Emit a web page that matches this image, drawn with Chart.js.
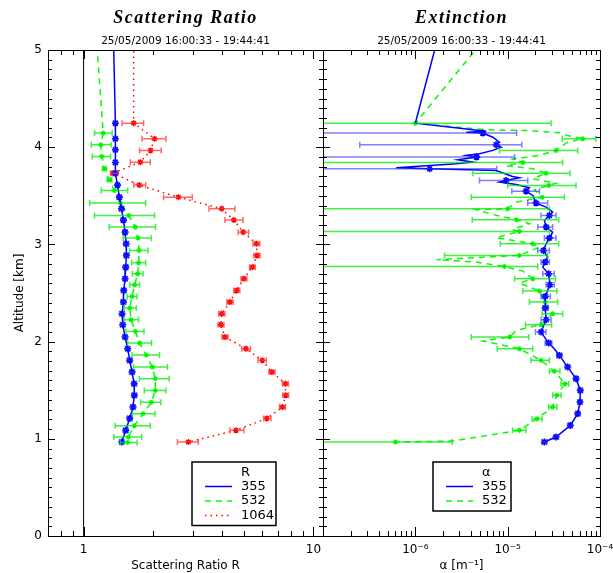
<!DOCTYPE html>
<html><head><meta charset="utf-8">
<script src="https://cdn.jsdelivr.net/npm/chart.js@4.4.1/dist/chart.umd.min.js"></script>
<style>
html,body{margin:0;padding:0;background:#fff;}
#wrap{position:relative;width:613px;height:573px;overflow:hidden;background:#fff;}
canvas{position:absolute;top:0;}
</style></head><body>
<div id="wrap">
<canvas id="c1" width="340" height="573" style="left:0"></canvas>
<canvas id="c2" width="340" height="573" style="left:290px"></canvas>
</div>
<script>
// ---------- text ----------
const TITLE_L = 'Scattering Ratio';
const TITLE_R = 'Extinction';
const SUBTITLE = '25/05/2009 16:00:33 - 19:44:41';
const X_TITLE_L = 'Scattering Ratio R';
const X_TITLE_R = 'α [m⁻¹]';
const Y_TITLE = 'Altitude [km]';
const LEG_TITLE_L = 'R';
const LEG_TITLE_R = 'α';
const WAVES = ['355', '532', '1064'];

// ---------- tick labels ----------
const srTickVals = [1, 10];
const srTickText = ['1', '10'];
const srMajor = [1, 10];
const srMinor = [0.8, 0.9, 2, 3, 4, 5, 6, 7, 8, 9];
const exTickVals = [1e-6, 1e-5, 1e-4];
const exTickText = ['10⁻⁶', '10⁻⁵', '10⁻⁴'];
const exMajor = [1e-7, 1e-6, 1e-5, 1e-4];
const exMinor = [2e-7,3e-7,4e-7,5e-7,6e-7,7e-7,8e-7,9e-7,2e-6,3e-6,4e-6,5e-6,6e-6,7e-6,8e-6,9e-6,2e-5,3e-5,4e-5,5e-5,6e-5,7e-5,8e-5,9e-5];
const refLineX = [1, 1];
const refLineY = [0, 5];

// ---------- Scattering ratio ----------
const topAlt = [5.5];
const sr355Top = [1.337];
const sr532Top = [1.107];
const sr1064Top = [1.651];

const srAlt355 = [4.247,4.087,3.973,3.843,3.733,3.61,3.486,3.367,3.25,3.126,3.007,2.887,2.766,2.647,2.527,2.407,2.287,2.174,2.047,1.927,1.807,1.687,1.567,1.447,1.327,1.21,1.087,0.967];
const sr355 = [1.375,1.375,1.375,1.375,1.375,1.404,1.431,1.461,1.49,1.515,1.531,1.535,1.525,1.515,1.495,1.49,1.47,1.48,1.515,1.555,1.587,1.625,1.658,1.662,1.64,1.587,1.525,1.465];
const sr355Lo = [1.35,1.35,1.35,1.35,1.35,1.38,1.40,1.43,1.455,1.48,1.495,1.50,1.49,1.48,1.46,1.455,1.435,1.445,1.48,1.52,1.55,1.585,1.62,1.625,1.60,1.55,1.49,1.435];
const sr355Hi = [1.40,1.40,1.40,1.40,1.40,1.43,1.46,1.495,1.525,1.55,1.57,1.57,1.56,1.55,1.53,1.525,1.505,1.515,1.55,1.59,1.625,1.665,1.70,1.70,1.68,1.625,1.56,1.495];

const srAlt532 = [4.145,4.025,3.905,3.778,3.665,3.555,3.425,3.298,3.178,3.065,2.938,2.812,2.698,2.585,2.465,2.345,2.225,2.105,1.985,1.861,1.738,1.619,1.498,1.375,1.259,1.135,1.018,0.963];
const sr532 = [1.217,1.188,1.200,1.233,1.296,1.362,1.446,1.571,1.679,1.725,1.743,1.735,1.718,1.668,1.625,1.587,1.609,1.679,1.753,1.874,1.990,2.050,2.050,1.971,1.813,1.662,1.566,1.555];
const sr532Lo = [1.116,1.080,1.090,1.208,1.266,1.193,1.062,1.116,1.292,1.486,1.586,1.619,1.630,1.586,1.546,1.504,1.504,1.530,1.555,1.625,1.651,1.747,1.837,1.770,1.630,1.372,1.353,1.446];
const sr532Hi = [1.331,1.318,1.309,1.258,1.326,1.555,1.861,2.036,2.056,1.970,1.906,1.861,1.813,1.752,1.708,1.696,1.735,1.831,1.975,2.139,2.317,2.357,2.280,2.169,2.044,1.950,1.788,1.708];

const srAlt1064 = [4.247,4.087,3.967,3.846,3.733,3.61,3.486,3.367,3.25,3.126,3.007,2.887,2.766,2.647,2.527,2.407,2.287,2.174,2.047,1.927,1.807,1.687,1.567,1.447,1.327,1.21,1.087,0.967];
const sr1064 = [1.651,2.036,1.955,1.765,1.344,1.747,2.585,3.986,4.506,4.946,5.648,5.68,5.42,4.98,4.63,4.33,3.986,3.958,4.12,5.08,5.99,6.59,7.55,7.57,7.33,6.27,4.60,2.857];
const sr1064Lo = [1.470,1.795,1.752,1.597,1.309,1.651,2.228,3.51,4.12,4.70,5.46,5.50,5.27,4.84,4.50,4.20,3.87,3.84,4.00,4.87,5.74,6.40,7.33,7.35,7.12,6.07,4.33,2.559];
const sr1064Hi = [1.824,2.280,2.176,1.950,1.408,1.861,2.972,4.55,4.94,5.23,5.84,5.85,5.58,5.13,4.78,4.47,4.12,4.08,4.25,5.32,6.24,6.80,7.78,7.80,7.55,6.54,4.98,3.157];

// ---------- Extinction ----------
const ex355LineAlt = [5.5,4.247,4.179,4.165,4.155,4.145,4.103,4.052,4.025,4.0,3.967,3.932,3.915,3.898,3.871,3.846,3.830,3.789,3.778,3.761,3.699,3.686,3.658,3.641,3.617,3.583,3.548,3.504,3.425,3.384,3.332,3.298,3.247,3.178,3.126,3.065,3.007,2.938,2.870,2.818,2.766,2.698,2.585,2.527,2.465,2.345,2.225,2.098,1.985,1.927,1.858,1.738,1.619,1.498,1.378,1.259,1.138,1.018,0.967];
const ex355Line = [2.23e-6,1.0e-6,4.2e-6,5.86e-6,3.56e-6,5.38e-6,6.9e-6,8.15e-6,7.5e-6,8.5e-6,6.9e-6,4.95e-6,3.56e-6,4.6e-6,2.89e-6,4.2e-6,2.78e-6,6.2e-7,1.43e-6,7.5e-6,1.13e-5,1.34e-5,9.6e-6,8.15e-6,1.24e-5,1.72e-5,1.58e-5,1.87e-5,2.03e-5,2.61e-5,3.07e-5,2.83e-5,2.5e-5,2.61e-5,3.07e-5,2.83e-5,2.61e-5,2.44e-5,2.71e-5,2.55e-5,2.4e-5,2.78e-5,2.87e-5,2.71e-5,2.55e-5,2.55e-5,2.61e-5,2.3e-5,2.78e-5,3.2e-5,3.63e-5,4.47e-5,5.5e-5,6.12e-5,6.07e-5,5.73e-5,4.77e-5,3.34e-5,2.5e-5];
const ex355Alt = [4.145,4.025,3.898,3.778,3.658,3.548,3.425,3.298,3.178,3.065,2.938,2.818,2.698,2.585,2.465,2.345,2.225,2.098,1.985,1.858,1.738,1.619,1.498,1.378,1.259,1.138,1.018,0.967];
const ex355 = [5.38e-6,7.5e-6,4.6e-6,1.43e-6,9.6e-6,1.58e-5,2.03e-5,2.83e-5,2.61e-5,2.83e-5,2.44e-5,2.55e-5,2.78e-5,2.87e-5,2.55e-5,2.55e-5,2.61e-5,2.3e-5,2.78e-5,3.63e-5,4.47e-5,5.5e-5,6.12e-5,6.07e-5,5.73e-5,4.77e-5,3.34e-5,2.5e-5];
const ex355Lo = [1e-8,2.5e-7,1e-8,1e-8,4.95e-6,1.11e-5,1.65e-5,2.3e-5,2.12e-5,2.5e-5,2.12e-5,2.3e-5,2.4e-5,2.61e-5,2.3e-5,2.4e-5,2.3e-5,2.0e-5,2.55e-5,3.4e-5,4.2e-5,5.2e-5,5.8e-5,5.75e-5,5.45e-5,4.5e-5,3.15e-5,2.35e-5];
const ex355Hi = [1.25e-5,1.42e-5,1.19e-5,7.6e-6,1.65e-5,2.21e-5,2.71e-5,3.34e-5,3.07e-5,3.34e-5,2.83e-5,2.83e-5,3.2e-5,3.2e-5,2.9e-5,2.75e-5,2.95e-5,2.6e-5,3.0e-5,3.85e-5,4.7e-5,5.8e-5,6.45e-5,6.4e-5,6.05e-5,5.0e-5,3.55e-5,2.65e-5];

const ex532LineAlt = [5.5,4.247,4.179,4.172,4.148,4.121,4.087,4.052,3.967,3.915,3.877,3.843,3.809,3.778,3.733,3.675,3.630,3.607,3.562,3.486,3.435,3.367,3.357,3.308,3.254,3.213,3.151,3.133,3.069,3.007,2.972,2.887,2.843,2.818,2.773,2.725,2.647,2.602,2.520,2.407,2.287,2.174,2.115,2.047,2.006,1.927,1.807,1.694,1.567,1.447,1.327,1.207,1.087,0.977,0.967];
const ex532Line = [1.21e-5,1.0e-6,5.86e-6,1.58e-5,3.63e-5,4.47e-5,6.48e-5,4.47e-5,3.34e-5,2.21e-5,1.13e-5,1.46e-5,9.6e-6,1.87e-5,2.61e-5,1.87e-5,3.34e-5,2.78e-5,1.95e-5,2.36e-5,1.24e-5,1.0e-5,4.56e-6,6.9e-6,1.24e-5,1.72e-5,1.13e-5,1.34e-5,7.5e-6,1.87e-5,2.21e-5,1.34e-5,1.69e-6,4.56e-6,9.2e-6,1.46e-5,1.87e-5,1.34e-5,2.21e-5,2.55e-5,3.07e-5,2.3e-5,1.24e-5,1.05e-5,5.38e-6,1.34e-5,2.3e-5,3.2e-5,4.18e-5,3.41e-5,3.07e-5,2.08e-5,1.34e-5,2.55e-6,6.1e-7];
const ex532Alt = [4.247,4.087,3.967,3.843,3.733,3.607,3.486,3.367,3.254,3.133,3.007,2.887,2.773,2.647,2.520,2.407,2.287,2.174,2.047,1.927,1.807,1.694,1.567,1.447,1.327,1.207,1.087,0.967];
const ex532 = [1.0e-6,6.48e-5,3.34e-5,1.46e-5,2.61e-5,2.78e-5,2.36e-5,1.0e-5,1.24e-5,1.34e-5,1.87e-5,1.34e-5,9.2e-6,1.87e-5,2.21e-5,2.55e-5,3.07e-5,2.3e-5,1.05e-5,1.34e-5,2.3e-5,3.2e-5,4.18e-5,3.41e-5,3.07e-5,2.08e-5,1.34e-5,6.1e-7];
const ex532Lo = [1e-8,3.9e-5,8.15e-6,1e-8,4.2e-6,1.0e-5,4.03e-6,1e-8,4.13e-6,1e-8,8.3e-6,2.07e-6,1e-8,1.19e-5,1.46e-5,1.72e-5,2.36e-5,1.56e-5,4.03e-6,7.7e-6,1.79e-5,2.83e-5,3.78e-5,3.07e-5,2.78e-5,1.84e-5,1.13e-5,1e-8];
const ex532Hi = [2.95e-5,9.0e-5,5.73e-5,3.94e-5,4.74e-5,5.5e-5,4.11e-5,2.83e-5,3.57e-5,2.83e-5,3.57e-5,2.71e-5,2.12e-5,3.3e-5,3.41e-5,3.48e-5,3.94e-5,2.99e-5,1.69e-5,1.87e-5,2.83e-5,3.68e-5,4.58e-5,3.78e-5,3.41e-5,2.36e-5,1.58e-5,2.51e-6];

// ---------- helpers ----------
const pts = (xs, ys) => xs.map((v, i) => ({x: v, y: ys[i]}));
const BLUE = '#0000ff', GREEN = '#00ff00', RED = '#ff0000';
const FONT = '"DejaVu Sans", "Liberation Sans", sans-serif';
Chart.defaults.font.family = FONT;
Chart.defaults.font.size = 12;
Chart.defaults.color = '#000';

const px = v => Math.round(v) + 0.5;

const framePlugin = {
  id: 'frameTicks',
  afterDraw(chart, args, o) {
    const {ctx, chartArea: a} = chart;
    const xs = chart.scales.x, ys = chart.scales.y;
    ctx.save();
    ctx.strokeStyle = '#000'; ctx.lineWidth = 1;
    ctx.beginPath();
    ctx.rect(px(a.left), px(a.top), Math.round(a.right) - Math.round(a.left), Math.round(a.bottom) - Math.round(a.top));
    ctx.stroke();
    ctx.beginPath();
    for (let k = 0; k <= 50; k++) {
      const yy = px(ys.getPixelForValue(k / 10));
      const L = k % 10 === 0 ? 7 : 4;
      ctx.moveTo(a.left, yy); ctx.lineTo(a.left + L, yy);
      ctx.moveTo(a.right, yy); ctx.lineTo(a.right - L, yy);
    }
    const xt = (list, L) => list.forEach(v => {
      const xx = px(xs.getPixelForValue(v));
      if (xx < a.left - 1 || xx > a.right + 1) return;
      ctx.moveTo(xx, a.bottom); ctx.lineTo(xx, a.bottom - L);
      ctx.moveTo(xx, a.top); ctx.lineTo(xx, a.top + L);
    });
    xt(o.major, 9); xt(o.minor, 5);
    ctx.stroke();
    // titles
    const cx = (a.left + a.right) / 2;
    ctx.fillStyle = '#000'; ctx.textAlign = 'center'; ctx.textBaseline = 'middle';
    ctx.font = 'italic bold 18px "Liberation Serif", serif';
    try { ctx.letterSpacing = '1.5px'; } catch (e) {}
    ctx.fillText(o.title, cx, 18);
    try { ctx.letterSpacing = '0px'; } catch (e) {}
    ctx.font = '10.5px ' + FONT;
    ctx.fillText(o.subtitle, cx, 41);
    ctx.restore();
  }
};

const errPlugin = {
  id: 'errBars',
  afterDatasetsDraw(chart) {
    const {ctx, chartArea: a} = chart;
    const xs = chart.scales.x, ys = chart.scales.y;
    ctx.save();
    ctx.beginPath(); ctx.rect(a.left, a.top, a.right - a.left, a.bottom - a.top); ctx.clip();
    chart.data.datasets.forEach(ds => {
      if (!ds.errLo) return;
      ctx.strokeStyle = ds.errColor; ctx.lineWidth = 1.5;
      ctx.beginPath();
      ds.data.forEach((p, i) => {
        const y = ys.getPixelForValue(p.y);
        const x1 = xs.getPixelForValue(ds.errLo[i]);
        const x2 = xs.getPixelForValue(ds.errHi[i]);
        ctx.moveTo(x1, y); ctx.lineTo(x2, y);
        ctx.moveTo(x1, y - 3); ctx.lineTo(x1, y + 3);
        ctx.moveTo(x2, y - 3); ctx.lineTo(x2, y + 3);
      });
      ctx.stroke();
    });
    ctx.restore();
  }
};

const legendPlugin = {
  id: 'boxLegend',
  afterDraw(chart, args, o) {
    const ctx = chart.ctx;
    const h = 20 + 14.5 * o.items.length;
    ctx.save();
    ctx.fillStyle = '#fff'; ctx.fillRect(o.x, o.y, o.w, h);
    ctx.strokeStyle = '#000'; ctx.lineWidth = 1.5; ctx.strokeRect(o.x, o.y, o.w, h);
    ctx.font = '13px ' + FONT; ctx.fillStyle = '#000'; ctx.textBaseline = 'middle'; ctx.textAlign = 'left';
    ctx.fillText(o.title, o.x + 49, o.y + 10.5);
    o.items.forEach((idx, k) => {
      const ds = chart.data.datasets[idx];
      const yy = o.y + 24.5 + 14.5 * k;
      ctx.strokeStyle = ds.borderColor; ctx.lineWidth = ds.borderWidth;
      ctx.setLineDash(ds.borderDash || []);
      ctx.beginPath(); ctx.moveTo(o.x + 13, yy); ctx.lineTo(o.x + 40, yy); ctx.stroke();
      ctx.setLineDash([]);
      ctx.fillText(ds.label, o.x + 49, yy);
    });
    ctx.restore();
  }
};

function lineDs(label, data, color, dash) {
  return {label, data, showLine: true, borderColor: color, backgroundColor: color, borderWidth: 1.5,
          borderDash: dash, pointRadius: 0, pointHoverRadius: 0, fill: false, tension: 0};
}
function markDs(label, data, color, lo, hi, errColor, r, bw) {
  return {label: label + ' err', data, showLine: false, pointStyle: 'star', pointRadius: r, pointHoverRadius: r,
          borderColor: color, backgroundColor: color, pointBorderWidth: bw, errLo: lo, errHi: hi, errColor};
}

function baseOptions(xmin, xmax, tickVals, tickText, showY, yTitle, xTitle, padRight, yw) {
  return {
    responsive: false, animation: false, events: [],
    layout: {padding: {top: 50, right: padRight, bottom: 0, left: 0}},
    plugins: {legend: {display: false}, tooltip: {enabled: false}},
    scales: {
      x: {type: 'logarithmic', position: 'bottom', min: xmin, max: xmax,
          grid: {display: false, drawTicks: false}, border: {display: true, color: '#000'},
          afterBuildTicks: s => { s.ticks = tickVals.map(v => ({value: v})); },
          ticks: {autoSkip: false, maxRotation: 0, padding: 7, font: {size: 12},
                  callback: (v) => { const i = tickVals.findIndex(t => Math.abs(t - v) / t < 1e-6); return i >= 0 ? tickText[i] : ''; }},
          title: {display: true, text: xTitle, font: {size: 12}, padding: {top: 0, bottom: 0}},
          afterFit: s => { s.height = 37; }},
      y: {type: 'linear', min: 0, max: 5,
          grid: {display: false, drawTicks: false}, border: {display: true, color: '#000'},
          ticks: {display: showY, stepSize: 1, padding: 6, font: {size: 12}},
          title: {display: showY, text: yTitle, font: {size: 12}, padding: {top: 13, bottom: 0}},
          afterFit: s => { s.width = yw; }}
    }
  };
}

// ---------- chart 1 ----------
const o1 = baseOptions(0.7, 11, srTickVals, srTickText, true, Y_TITLE, X_TITLE_L, 17, 48);
o1.plugins.frameTicks = {major: srMajor, minor: srMinor, title: TITLE_L, subtitle: SUBTITLE};
o1.plugins.boxLegend = {x: 192, y: 462, w: 84, title: LEG_TITLE_L, items: [1, 3, 5]};
new Chart(document.getElementById('c1'), {
  type: 'scatter',
  data: {datasets: [
    markDs(WAVES[0], pts(sr355, srAlt355), BLUE, sr355Lo, sr355Hi, 'rgba(40,40,255,0.6)', 3.5, 1.6),
    lineDs(WAVES[0], pts(sr355Top.concat(sr355), topAlt.concat(srAlt355)), BLUE, []),
    markDs(WAVES[1], pts(sr532, srAlt532), GREEN, sr532Lo, sr532Hi, 'rgba(0,235,0,0.75)', 2.5, 1.3),
    lineDs(WAVES[1], pts(sr532Top.concat(sr532), topAlt.concat(srAlt532)), GREEN, [6, 5]),
    markDs(WAVES[2], pts(sr1064, srAlt1064), RED, sr1064Lo, sr1064Hi, 'rgba(255,40,40,0.7)', 3, 1.4),
    lineDs(WAVES[2], pts(sr1064Top.concat(sr1064), topAlt.concat(srAlt1064)), RED, [1.5, 4]),
    {label: 'R=1', data: pts(refLineX, refLineY), showLine: true, borderColor: '#000', borderWidth: 1, pointRadius: 0}
  ]},
  options: o1,
  plugins: [errPlugin, framePlugin, legendPlugin]
});

// ---------- chart 2 ----------
const o2 = baseOptions(1e-7, 1e-4, exTickVals, exTickText, false, '', X_TITLE_R, 30, 33);
o2.plugins.frameTicks = {major: exMajor, minor: exMinor, title: TITLE_R, subtitle: SUBTITLE};
o2.plugins.boxLegend = {x: 143, y: 462, w: 78, title: LEG_TITLE_R, items: [1, 3]};
new Chart(document.getElementById('c2'), {
  type: 'scatter',
  data: {datasets: [
    markDs(WAVES[0], pts(ex355, ex355Alt), BLUE, ex355Lo, ex355Hi, 'rgba(40,40,255,0.6)', 3.5, 1.6),
    lineDs(WAVES[0], pts(ex355Line, ex355LineAlt), BLUE, []),
    markDs(WAVES[1], pts(ex532, ex532Alt), GREEN, ex532Lo, ex532Hi, 'rgba(0,235,0,0.75)', 2.5, 1.3),
    lineDs(WAVES[1], pts(ex532Line, ex532LineAlt), GREEN, [6, 5])
  ]},
  options: o2,
  plugins: [errPlugin, framePlugin, legendPlugin]
});
</script></body></html>
